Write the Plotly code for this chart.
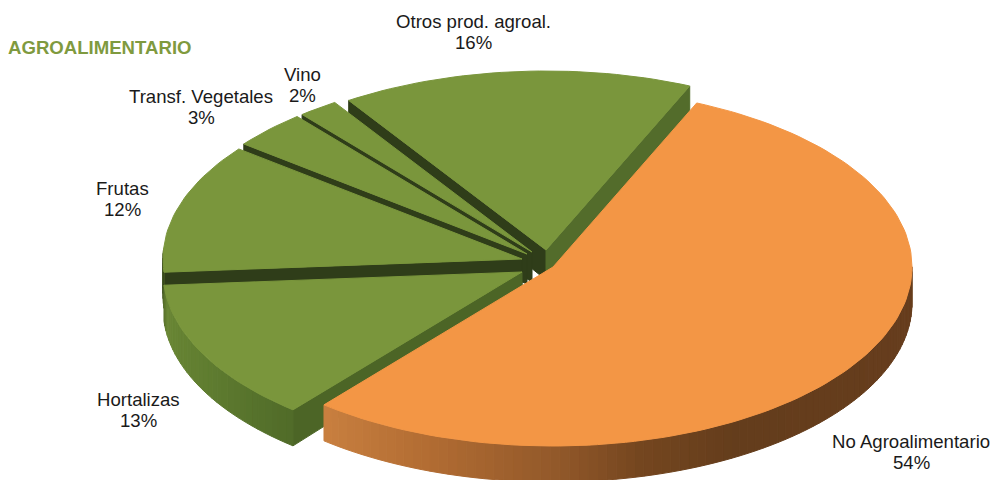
import math
import plotly.graph_objects as go

# ---- data, in drawing order (back to front)
categories = ["Otros prod. agroal.", "Vino", "Transf. Vegetales", "Frutas", "Hortalizas", "No Agroalimentario"]
shares = [15.8, 1.8, 3.4, 11.7, 12.8, 54.4]
chart_title = "AGROALIMENTARIO"

# ---- layout constants (pixels of the 993x480 page)
W, H = 993, 480
RX, RY = 359, 179
ORANGE_START = 23.6
APEX = {  # exploded apex of each slice
    "Otros prod. agroal.": (546, 250), "Vino": (532, 252), "Transf. Vegetales": (527, 254),
    "Frutas": (522, 259), "Hortalizas": (522, 272), "No Agroalimentario": (553, 267),
}
LABEL_XY = {
    "Otros prod. agroal.": (473, 32), "Vino": (302, 85), "Transf. Vegetales": (201, 107),
    "Frutas": (122, 199), "Hortalizas": (138, 410), "No Agroalimentario": (911, 451.5),
}
LINE_GAP = 10.5
GREEN, ORANGE = "#7a963c", "#f39645"
DARK = "#2f3d19"
MID = "#536c2b"


def mix(c1, c2, t):
    a = [int(c1[i:i + 2], 16) for i in (1, 3, 5)]
    b = [int(c2[i:i + 2], 16) for i in (1, 3, 5)]
    return "#%02x%02x%02x" % tuple(round(p + (q - p) * t) for p, q in zip(a, b))


def rim(apex, deg):
    t = math.radians(deg)
    return apex[0] + RX * math.sin(t), apex[1] - RY * math.cos(t)


def depth(y):
    return min(36.0, 18 + max(0.0, y - 85) * 0.1)


fig = go.Figure()


def poly(pts, color):
    fig.add_trace(go.Scatter(
        x=[p[0] for p in pts] + [pts[0][0]], y=[p[1] for p in pts] + [pts[0][1]],
        mode="lines", fill="toself", fillcolor=color,
        line=dict(color=color, width=1), hoverinfo="skip", showlegend=False))


total = sum(shares)
spans = {c: v / total * 360 for c, v in zip(categories, shares)}
clock = ["No Agroalimentario", "Hortalizas", "Frutas", "Transf. Vegetales", "Vino", "Otros prod. agroal."]
starts = {}
a = ORANGE_START
for c in clock:
    starts[c] = a
    a += spans[c]

APEX_DEPTH = 30
for cat in categories:
    ap = APEX[cat]
    s, e = starts[cat], starts[cat] + spans[cat]
    is_orange = cat == categories[-1]
    n = max(4, int(spans[cat] / 1.5))
    angles = [s + (e - s) * i / n for i in range(n + 1)]
    pts = [rim(ap, d) for d in angles]

    if cat in ("Vino", "Transf. Vegetales", "Frutas", "Otros prod. agroal."):
        c0 = rim(ap, s)
        poly([ap, c0, (c0[0], c0[1] + depth(c0[1])), (ap[0], ap[1] + APEX_DEPTH)], DARK)
    if cat == "Otros prod. agroal.":
        c1 = rim(ap, e)
        poly([ap, c1, (c1[0], c1[1] + 30), (ap[0], ap[1] + APEX_DEPTH)], MID)
    if cat == "Hortalizas":
        c0 = rim(ap, s)
        poly([ap, c0, (c0[0], c0[1] + depth(c0[1])), (ap[0], ap[1] + APEX_DEPTH)], "#4c6526")

    for i in range(n):
        d0, d1 = angles[i], angles[i + 1]
        if not (90 <= (d0 % 360) <= 272 or 90 <= (d1 % 360) <= 272):
            continue
        p0, p1 = rim(ap, d0), rim(ap, d1)
        if is_orange:
            stops = [(90, "#673d1d"), (150, "#643d1c"), (166, "#74461f"), (180, "#93592a"),
                     (201, "#b36d33"), (220, "#c98040")]
        else:
            stops = [(218, "#4f6a28"), (240, "#5f7c30"), (262, "#6a8735"), (272, "#3a4b1e")]
        mid = (d0 + d1) / 2
        col = stops[-1][1]
        if mid <= stops[0][0]:
            col = stops[0][1]
        for (a0, c0_), (a1, c1_) in zip(stops, stops[1:]):
            if a0 <= mid <= a1:
                col = mix(c0_, c1_, (mid - a0) / (a1 - a0))
        poly([p0, p1, (p1[0], p1[1] + depth(p1[1])), (p0[0], p0[1] + depth(p0[1]))], col)

    poly([ap] + pts, ORANGE if is_orange else GREEN)

label_font = dict(family="Liberation Sans", size=18.6, color="#1a1a1a")
annotations = []
for c, v in zip(categories, shares):
    lx, ly = LABEL_XY[c]
    annotations.append(dict(x=lx, y=ly - LINE_GAP, xref="x", yref="y", showarrow=False, text=c, font=label_font))
    annotations.append(dict(x=lx, y=ly + LINE_GAP, xref="x", yref="y", showarrow=False,
                            text=f"{round(v)}%", font=label_font))
annotations.append(dict(
    x=6, y=47, xref="x", yref="y", xanchor="left", showarrow=False, text=f"<b>{chart_title}</b>",
    font=dict(family="Liberation Sans", size=18.6, color="#7f9a3f")))

fig.update_layout(
    width=W, height=H, margin=dict(l=0, r=0, t=0, b=0),
    paper_bgcolor="white", plot_bgcolor="white", showlegend=False,
    xaxis=dict(range=[0, W], visible=False, fixedrange=True),
    yaxis=dict(range=[H, 0], visible=False, fixedrange=True),
    annotations=annotations,
)
fig.write_html("out.html", config={"displayModeBar": False},
               post_script="document.body.style.margin='0';document.body.style.overflow='hidden';")
